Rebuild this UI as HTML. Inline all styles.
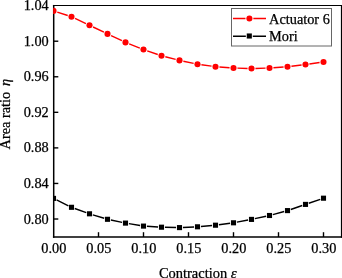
<!DOCTYPE html><html><head><meta charset="utf-8"><style>html,body{margin:0;padding:0;background:#fff;overflow:hidden}svg{display:block}text{font-family:"Liberation Serif",serif;font-size:14.3px;fill:#000;stroke:#000;stroke-width:0.25px}</style></head><body>
<svg width="342" height="278" viewBox="0 0 342 278">
<rect width="342" height="278" fill="#fff"/>
<defs><clipPath id="c"><rect x="53.15" y="5.3" width="288.35" height="231.7"/></clipPath></defs>
<path d="M52.95 5.5H342.1" stroke="#000" stroke-width="1.1"/>
<path d="M53.7 4.95V237.75" stroke="#000" stroke-width="1.5"/>
<path d="M341.5 4.95V237.75" stroke="#000" stroke-width="1.2"/>
<path d="M52.95 237.0H342.1" stroke="#000" stroke-width="1.5"/>
<text x="53.80" y="253.3" text-anchor="middle">0.00</text>
<line x1="98.50" y1="237.0" x2="98.50" y2="232.2" stroke="#000" stroke-width="1.4"/>
<text x="98.80" y="253.3" text-anchor="middle">0.05</text>
<line x1="143.50" y1="237.0" x2="143.50" y2="232.2" stroke="#000" stroke-width="1.4"/>
<text x="143.80" y="253.3" text-anchor="middle">0.10</text>
<line x1="188.50" y1="237.0" x2="188.50" y2="232.2" stroke="#000" stroke-width="1.4"/>
<text x="188.80" y="253.3" text-anchor="middle">0.15</text>
<line x1="233.50" y1="237.0" x2="233.50" y2="232.2" stroke="#000" stroke-width="1.4"/>
<text x="233.80" y="253.3" text-anchor="middle">0.20</text>
<line x1="278.50" y1="237.0" x2="278.50" y2="232.2" stroke="#000" stroke-width="1.4"/>
<text x="278.80" y="253.3" text-anchor="middle">0.25</text>
<line x1="323.50" y1="237.0" x2="323.50" y2="232.2" stroke="#000" stroke-width="1.4"/>
<text x="323.80" y="253.3" text-anchor="middle">0.30</text>
<line x1="53.5" y1="219.01" x2="58.3" y2="219.01" stroke="#000" stroke-width="1.4"/>
<text x="48.7" y="223.96" text-anchor="end">0.80</text>
<line x1="53.5" y1="183.45" x2="58.3" y2="183.45" stroke="#000" stroke-width="1.4"/>
<text x="48.7" y="188.40" text-anchor="end">0.84</text>
<line x1="53.5" y1="147.89" x2="58.3" y2="147.89" stroke="#000" stroke-width="1.4"/>
<text x="48.7" y="152.34" text-anchor="end">0.88</text>
<line x1="53.5" y1="112.33" x2="58.3" y2="112.33" stroke="#000" stroke-width="1.4"/>
<text x="48.7" y="117.28" text-anchor="end">0.92</text>
<line x1="53.5" y1="76.77" x2="58.3" y2="76.77" stroke="#000" stroke-width="1.4"/>
<text x="48.7" y="81.22" text-anchor="end">0.96</text>
<line x1="53.5" y1="41.21" x2="58.3" y2="41.21" stroke="#000" stroke-width="1.4"/>
<text x="48.7" y="46.16" text-anchor="end">1.00</text>
<text x="48.7" y="9.60" text-anchor="end">1.04</text>
<g clip-path="url(#c)"><path d="M57.26 12.11L67.74 15.49M75.06 18.40L85.94 23.60M93.06 27.00L103.94 32.20M111.07 35.59L121.93 40.71M129.17 43.85L139.83 48.05M147.23 50.80L157.77 54.50M165.33 56.78L175.67 59.42M183.36 61.22L193.64 63.38M201.41 64.74L211.59 66.16M219.44 66.98L229.56 67.72M237.45 68.12L247.55 68.43M255.45 68.43L265.55 68.12M273.44 67.74L283.56 67.06M291.42 66.30L301.58 65.00M309.41 63.96L319.59 62.54" fill="none" stroke="#ff0000" stroke-width="1.4"/><circle cx="53.50" cy="10.90" r="3.05" fill="#ff0000"/><circle cx="71.50" cy="16.70" r="3.05" fill="#ff0000"/><circle cx="89.50" cy="25.30" r="3.05" fill="#ff0000"/><circle cx="107.50" cy="33.90" r="3.05" fill="#ff0000"/><circle cx="125.50" cy="42.40" r="3.05" fill="#ff0000"/><circle cx="143.50" cy="49.50" r="3.05" fill="#ff0000"/><circle cx="161.50" cy="55.80" r="3.05" fill="#ff0000"/><circle cx="179.50" cy="60.40" r="3.05" fill="#ff0000"/><circle cx="197.50" cy="64.20" r="3.05" fill="#ff0000"/><circle cx="215.50" cy="66.70" r="3.05" fill="#ff0000"/><circle cx="233.50" cy="68.00" r="3.05" fill="#ff0000"/><circle cx="251.50" cy="68.55" r="3.05" fill="#ff0000"/><circle cx="269.50" cy="68.00" r="3.05" fill="#ff0000"/><circle cx="287.50" cy="66.80" r="3.05" fill="#ff0000"/><circle cx="305.50" cy="64.50" r="3.05" fill="#ff0000"/><circle cx="323.50" cy="62.00" r="3.05" fill="#ff0000"/><path d="M56.59 199.93L68.41 205.77M74.74 208.47L86.26 212.63M92.80 214.81L104.20 218.29M110.88 220.01L122.12 222.39M128.90 223.67L140.10 225.53M146.94 226.31L158.06 226.99M164.95 227.28L176.05 227.52M182.95 227.45L194.05 226.95M200.94 226.49L212.06 225.51M218.92 224.74L230.08 223.26M236.89 222.16L248.11 220.04M254.87 218.67L266.13 216.23M272.83 214.59L284.17 211.51M290.76 209.48L302.24 205.52M308.76 203.28L320.24 199.32" fill="none" stroke="#000" stroke-width="1.4"/><rect x="50.95" y="195.85" width="5.1" height="5.1" fill="#000"/><rect x="68.95" y="204.75" width="5.1" height="5.1" fill="#000"/><rect x="86.95" y="211.25" width="5.1" height="5.1" fill="#000"/><rect x="104.95" y="216.75" width="5.1" height="5.1" fill="#000"/><rect x="122.95" y="220.55" width="5.1" height="5.1" fill="#000"/><rect x="140.95" y="223.55" width="5.1" height="5.1" fill="#000"/><rect x="158.95" y="224.65" width="5.1" height="5.1" fill="#000"/><rect x="176.95" y="225.05" width="5.1" height="5.1" fill="#000"/><rect x="194.95" y="224.25" width="5.1" height="5.1" fill="#000"/><rect x="212.95" y="222.65" width="5.1" height="5.1" fill="#000"/><rect x="230.95" y="220.25" width="5.1" height="5.1" fill="#000"/><rect x="248.95" y="216.85" width="5.1" height="5.1" fill="#000"/><rect x="266.95" y="212.95" width="5.1" height="5.1" fill="#000"/><rect x="284.95" y="208.05" width="5.1" height="5.1" fill="#000"/><rect x="302.95" y="201.85" width="5.1" height="5.1" fill="#000"/><rect x="320.95" y="195.65" width="5.1" height="5.1" fill="#000"/></g>
<text x="197.8" y="278" text-anchor="middle" style="font-size:14.45px">Contraction <tspan font-style="italic" style="font-size:15px">ε</tspan></text>
<text transform="translate(10,149.4) rotate(-90)">Area ratio</text>
<text transform="translate(10,86.0) rotate(-90)" font-style="italic">η</text>
<rect x="231.5" y="8.5" width="100" height="37.5" fill="#fff" stroke="#666" stroke-width="1"/>
<path d="M233 18.5H245.45M253.35 18.5H266" stroke="#ff0000" stroke-width="1.4"/>
<circle cx="249.4" cy="18.5" r="3.05" fill="#ff0000"/>
<path d="M233 36.2H245.85M252.75 36.2H266" stroke="#000" stroke-width="1.4"/>
<rect x="246.75" y="33.45" width="5.1" height="5.1" fill="#000"/>
<text x="269.1" y="23.7">Actuator 6</text>
<text x="269.1" y="41.0">Mori</text>
</svg></body></html>
